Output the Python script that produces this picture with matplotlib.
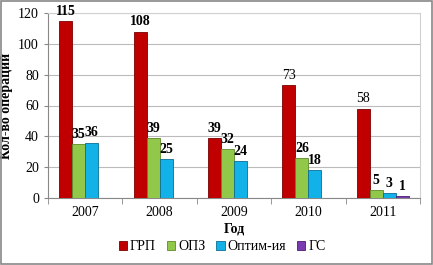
import numpy as np
import matplotlib
matplotlib.use("Agg")
import matplotlib.pyplot as plt

plt.rcParams['font.family'] = ['Liberation Serif', 'DejaVu Serif']

# data
years = ['2007', '2008', '2009', '2010', '2011']
series_names = ['ГРП', 'ОПЗ', 'Оптим-ия', 'ГС']
grp = [115, 108, 39, 73, 58]
opz = [35, 39, 32, 26, 5]
optim = [36, 25, 24, 18, 3]
gs = [0, 0, 0, 0, 1]

colors = ['#C00000', '#92C84A', '#12B2E8', '#7A3AB0']
edges = ['#7A0000', '#5E8A28', '#0A6E96', '#4A1E70']

fig = plt.figure(figsize=(4.33, 2.65), dpi=100)
ax = fig.add_axes([48 / 433, 1 - 198 / 265, 372 / 433, 185 / 265])

x = np.arange(len(years))
w = 0.175
all_vals = [grp, opz, optim, gs]
for i, vals in enumerate(all_vals):
    pos = x + (i - 1.5) * w
    bars = ax.bar(pos, vals, width=w, color=colors[i], edgecolor=edges[i],
                  linewidth=0.6, zorder=3, label=series_names[i])
    for p, v in zip(pos, vals):
        if v == 0:
            continue
        weight = 'normal' if (i == 0 and v in (73, 58)) else 'bold'
        ax.text(p, v + 2, str(v), ha='center', va='bottom', fontsize=10,
                fontweight=weight, zorder=4)

ax.set_xlim(-0.5, len(years) - 0.5)
ax.set_ylim(0, 120)
ax.set_yticks(range(0, 121, 20))
ax.set_xticks(x)
ax.set_xticklabels(years)
ax.set_xticks(np.arange(-0.5, len(years), 1), minor=True)
ax.tick_params(axis='x', which='major', length=0, labelsize=10, pad=6)
ax.tick_params(axis='x', which='minor', length=4, color='#888888')
ax.tick_params(axis='y', labelsize=10, length=3, color='#888888')
ax.grid(axis='y', color='#BBBBBB', linewidth=0.8, zorder=0)
for s in ['top', 'right']:
    ax.spines[s].set_color('#D0D0D0')
for s in ['left', 'bottom']:
    ax.spines[s].set_color('#888888')

ax.set_xlabel('Год', fontsize=10, fontweight='bold', labelpad=2)
ax.set_ylabel('Кол-во операций', fontsize=10, fontweight='bold', labelpad=4)

fig.legend(loc='center', bbox_to_anchor=(222 / 433, 1 - 247 / 265), ncol=4,
           frameon=False, fontsize=10, handlelength=0.6, handleheight=0.6,
           handletextpad=0.2, columnspacing=0.8, borderaxespad=0)

# outer frame
fig.patches.append(plt.Rectangle((0.002, 0.003), 0.995, 0.993, transform=fig.transFigure,
                                 fill=False, edgecolor='#888888', linewidth=1.2))

fig.savefig('out.png', dpi=100)
